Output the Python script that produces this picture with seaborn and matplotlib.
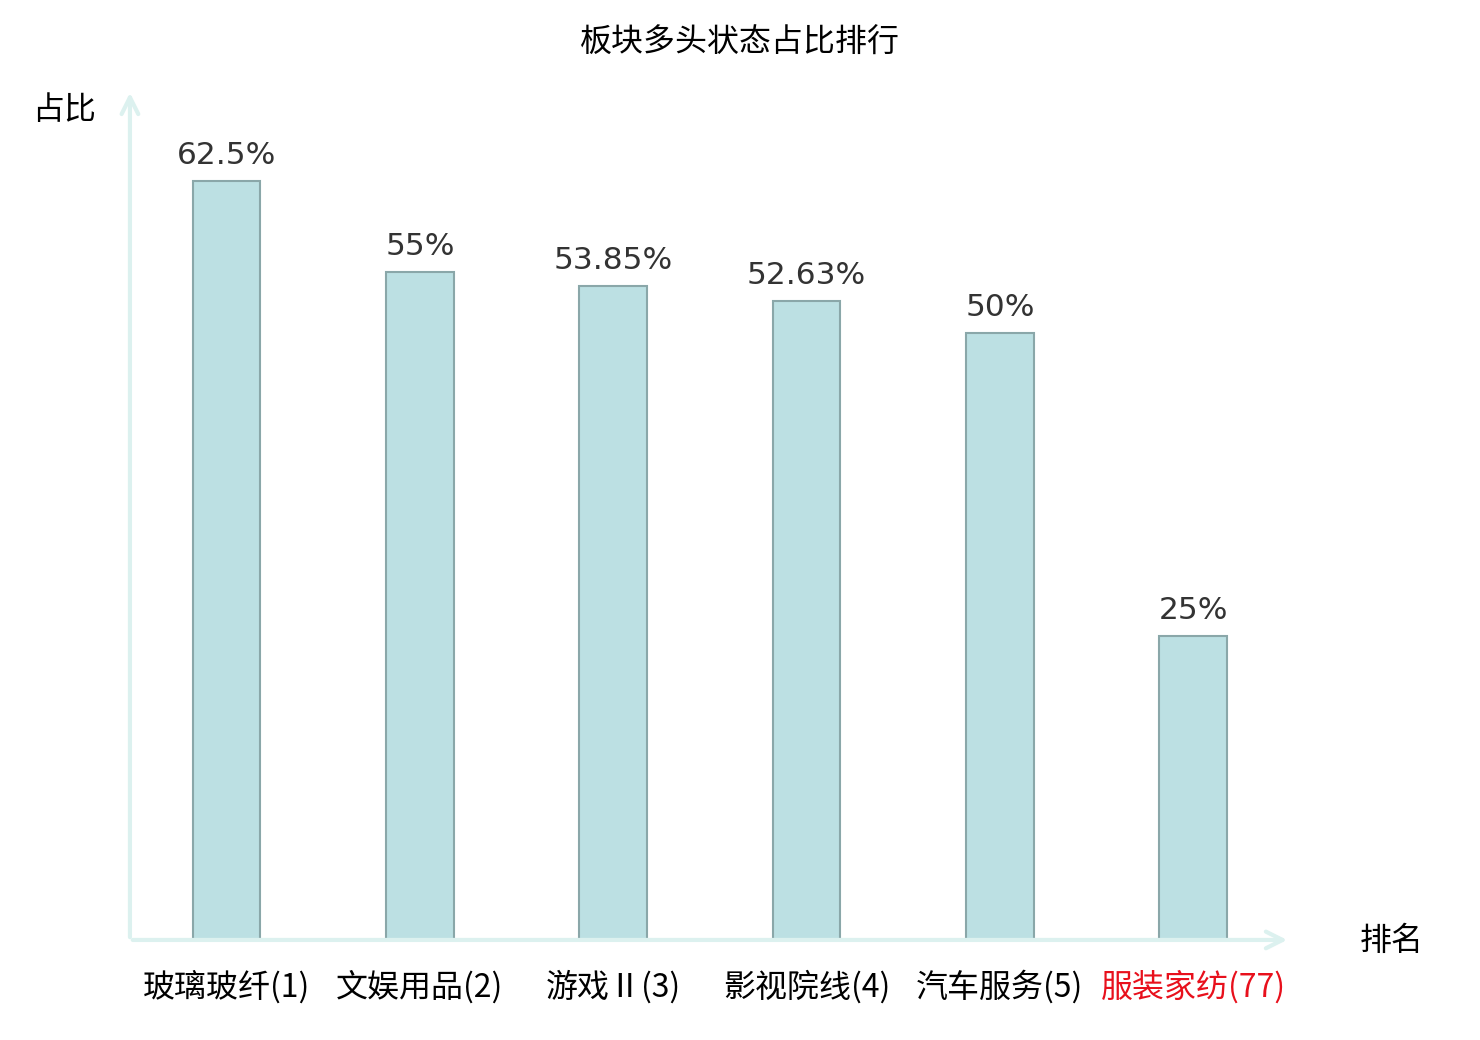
import numpy as np
import pandas as pd
import matplotlib
matplotlib.use('Agg')
import matplotlib.pyplot as plt
import seaborn as sns

# data
categories = ['玻璃玻纤(1)', '文娱用品(2)', '游戏Ⅱ(3)', '影视院线(4)', '汽车服务(5)', '服装家纺(77)']
values = [62.5, 55, 53.85, 52.63, 50, 25]
value_labels = ['62.5%', '55%', '53.85%', '52.63%', '50%', '25%']
highlight = '服装家纺(77)'

sns.set_style('white')
plt.rcParams['font.family'] = ['Noto Sans CJK SC', 'DejaVu Sans']
plt.rcParams['text.color'] = 'black'
plt.rcParams['xtick.color'] = 'black'

df = pd.DataFrame({'name': categories, 'ratio': values})

fig = plt.figure(figsize=(14.8, 10.4), dpi=100)
ax = fig.add_axes([0.0878, 0.0962, 0.7838, 0.8173])

sns.barplot(data=df, x='name', y='ratio', ax=ax, color='#bce0e3', saturation=1,
            width=0.35, edgecolor='#8aa7a9', linewidth=1.5)

ax.bar_label(ax.containers[0], labels=value_labels, padding=8, fontsize=22.5,
             color='#333333', family='DejaVu Sans')

ax.set_xlim(-0.5, 5.5)
ax.set_ylim(0, 70)
for s in ax.spines.values():
    s.set_visible(False)
ax.set_yticks([])
ax.tick_params(axis='x', length=0, pad=22, labelsize=23, labelcolor='black')
for lbl in ax.get_xticklabels():
    if lbl.get_text() == highlight:
        lbl.set_color('#e8101c')
ax.set_xlabel('')
ax.set_ylabel('')

# axis lines with arrows
axis_col = '#dcf1ef'
ax.annotate('', xy=(0, 1.0), xytext=(0, 0), xycoords='axes fraction',
            arrowprops=dict(arrowstyle='->', color=axis_col, lw=3, mutation_scale=30))
ax.annotate('', xy=(1.0, 0), xytext=(0, 0), xycoords='axes fraction',
            arrowprops=dict(arrowstyle='->', color=axis_col, lw=3, mutation_scale=30))

fig.text(0.022, 0.894, '占比', fontsize=23, ha='left', va='center')
fig.text(0.919, 0.095, '排名', fontsize=23, ha='left', va='center')
fig.text(0.5, 0.959, '板块多头状态占比排行', fontsize=23, ha='center', va='center')

fig.savefig('out.png', dpi=100)
